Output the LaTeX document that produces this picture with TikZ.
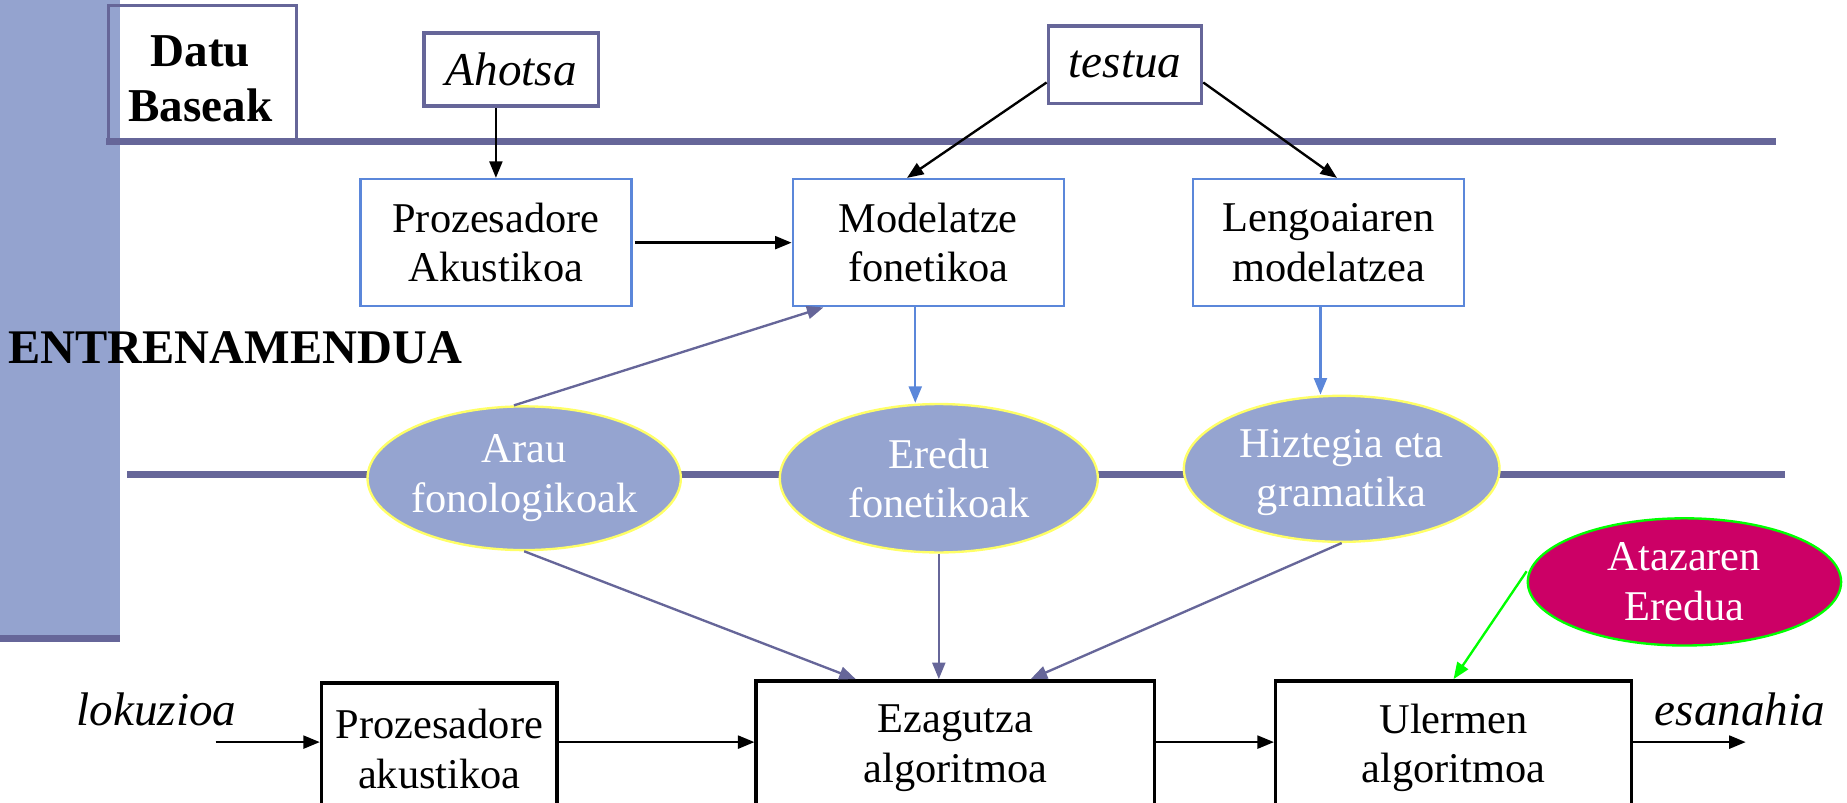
\documentclass[tikz,border=0pt]{standalone}
\usepackage{fontspec}
\setmainfont{Liberation Serif}
\usetikzlibrary{arrows.meta,shapes.geometric,calc}
\definecolor{barblue}{RGB}{148,163,207}
\definecolor{linepurple}{RGB}{102,102,153}
\definecolor{boxblue}{RGB}{91,135,218}
\definecolor{ellfill}{RGB}{149,164,208}
\definecolor{ellborder}{RGB}{255,255,102}
\definecolor{atazfill}{RGB}{204,0,102}
\definecolor{atazborder}{RGB}{0,255,0}
\begin{document}
\begin{tikzpicture}[x=1pt,y=-1pt,
  txt/.style={font=\fontsize{36}{42}\selectfont, align=center, inner sep=0pt},
  itxt/.style={font=\fontsize{40}{46}\selectfont\itshape, inner sep=0pt},
  btxt/.style={font=\fontsize{40}{47}\selectfont\bfseries, align=center, inner sep=0pt},
  bluebox/.style={draw=boxblue, line width=2pt, minimum width=230pt, minimum height=108pt, txt},
  purplebox/.style={draw=linepurple, line width=2.5pt, inner sep=0pt},
  blackbox/.style={draw=black, line width=3pt, minimum height=106pt, inner sep=0pt},
  ell/.style={ellipse, fill=ellfill, draw=ellborder, line width=2pt, inner sep=0pt},
  elltxt/.style={txt, text=white},
  arr/.style={-{Triangle[length=14pt,width=11pt]}, line width=2pt},
  sepline/.style={linepurple, line width=6pt}
]
\useasboundingbox (0,0) rectangle (1568,681);
% left bar
\fill[barblue] (0,0) rectangle (102,540);
\fill[linepurple] (0,539) rectangle (102,545);
% Datu Baseak
\node[purplebox, minimum width=160pt, minimum height=115pt] (datu) at (172,62) {};
\node[btxt] (datut) at (170,67) {Datu\\Baseak};
% separator lines
\draw[sepline] (90,120) -- (1508,120);
\draw[sepline] (108,403) -- (1515,403);
% top inputs
\node[purplebox, line width=3pt, minimum width=148pt, minimum height=62pt, itxt] (ahotsa) at (434,59) {Ahotsa};
\node[purplebox, line width=3pt, minimum width=130pt, minimum height=66pt, itxt] (testua) at (955,55) {testua};
% training boxes
\node[bluebox] (pa) at (421,206) {Prozesadore\\Akustikoa};
\node[bluebox] (mf) at (788,206) {Modelatze\\fonetikoa};
\node[bluebox] (lm) at (1128,206) {Lengoaiaren\\modelatzea};
% title
\node[btxt, font=\fontsize{41}{47}\selectfont\bfseries, anchor=west] (entr) at (7,295) {ENTRENAMENDUA};
% ellipses
\node[ell, minimum width=266pt, minimum height=122pt] (arau) at (445,406) {};
\node[elltxt] (araut) at (arau.center) {Arau\\fonologikoak};
\node[ell, minimum width=270pt, minimum height=126pt] (eredu) at (797,406) {};
\node[elltxt] (eredut) at (eredu.center) {Eredu\\fonetikoak};
\node[ell, minimum width=268pt, minimum height=124pt] (hiz) at (1139,398) {};
\node[elltxt] (hizt) at ([yshift=-3pt]hiz.center) {Hiztegia eta\\gramatika};
\node[ell, fill=atazfill, draw=atazborder, minimum width=266pt, minimum height=108pt] (ataz) at (1430,494) {};
\node[elltxt] (atazt) at (ataz.center) {Atazaren\\Eredua};
% bottom row
\node[blackbox, minimum width=200pt, minimum height=104pt] (pa2) at (373,632) {};
\node[txt] (pa2t) at (373,636) {Prozesadore\\akustikoa};
\node[blackbox, minimum width=338pt] (ezag) at (811,631) {};
\node[txt] (ezagt) at (811,635) {Ezagutza\\algoritmoa};
\node[blackbox, minimum width=302pt] (ul) at (1234,631) {};
\node[txt] (ult) at (1234,635) {Ulermen\\algoritmoa};
\node[itxt] (lok) at (133,602) {lokuzioa};
\node[itxt] (esan) at (1477,602) {esanahia};
\coordinate (lokin) at (183,630);
\coordinate (esanout) at (1482,630);
% arrows, black
\draw[arr] (ahotsa.south -| pa.north) -- (pa.north);
\draw[arr] ([xshift=2pt]pa.east) -- (mf.west);
\draw[arr] ([yshift=-15pt]testua.west) -- ([xshift=-18pt]mf.north);
\draw[arr] ([yshift=-15pt]testua.east) -- ([xshift=7pt]lm.north);
\draw[arr] (lokin) -- (lokin -| pa2.west);
\draw[arr] (lokin -| pa2.east) -- (lokin -| ezag.west);
\draw[arr] (lokin -| ezag.east) -- (lokin -| ul.west);
\draw[arr] (lokin -| ul.east) -- (esanout);
% blue arrows
\draw[arr, boxblue] ([xshift=-11pt]mf.south) -- ([xshift=-11pt]mf.south |- eredu.north);
\draw[arr, boxblue] ([xshift=-7pt]lm.south) -- ([xshift=-7pt]lm.south |- hiz.north);
% purple arrows
\draw[arr, linepurple] (arau.98) -- ([xshift=27pt]mf.south west);
\draw[arr, linepurple] (arau.south) -- ([xshift=86pt]ezag.north west);
\draw[arr, linepurple] (eredu.south) -- (eredu.south |- ezag.north);
\draw[arr, linepurple] (hiz.south) -- ([xshift=64pt]ezag.north);
% green arrow
\draw[arr, atazborder] ([yshift=9pt]ataz.west) -- (ul.north);
\end{tikzpicture}
\end{document}
